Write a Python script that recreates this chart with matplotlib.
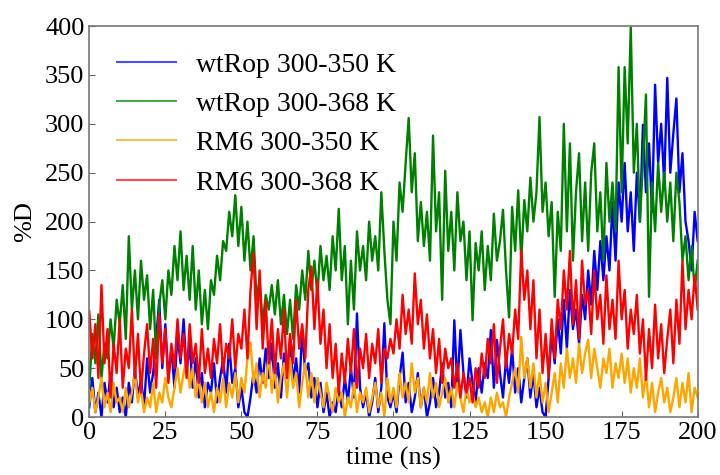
import numpy as np
import matplotlib
matplotlib.use('Agg')
import matplotlib.pyplot as plt

# %D over the 200 ns runs, sampled every 1 ns
time_ns = np.arange(0, 201, 1)

wt_350 = [10, 40, 5, 25, 0, 35, 15, 45, 10, 30,
          5, 20, 0, 35, 15, 50, 20, 40, 10, 60,
          25, 45, 80, 120, 50, 95, 40, 70, 30, 85,
          55, 100, 45, 75, 30, 60, 20, 45, 10, 35,
          25, 55, 15, 40, 60, 25, 75, 35, 50, 10,
          30, 5, 0, 20, 45, 25, 60, 35, 70, 40,
          75, 30, 55, 20, 65, 40, 80, 35, 60, 25,
          89, 45, 55, 20, 40, 10, 35, 5, 25, 0,
          15, 5, 30, 10, 40, 15, 50, 20, 106, 30,
          10, 25, 0, 15, 40, 5, 30, 96, 20, 10,
          25, 5, 40, 66, 15, 35, 5, 20, 45, 10,
          30, 0, 15, 40, 10, 25, 55, 20, 35, 10,
          99, 30, 89, 45, 20, 60, 35, 15, 50, 25,
          55, 40, 89, 30, 79, 45, 20, 60, 35, 70,
          25, 50, 15, 40, 60, 20, 45, 10, 30, 5,
          0, 40, 85, 55, 100, 65, 120, 70, 130, 90,
          110, 75, 125, 100, 150, 115, 170, 130, 180, 140,
          185, 150, 220, 160, 240, 200, 260, 190, 230, 170,
          250, 200, 299, 230, 280, 210, 340, 260, 300, 240,
          347, 250, 290, 326, 230, 270, 200, 180, 150, 210,
          180]

wt_368 = [30, 85, 55, 105, 40, 75, 60, 100, 70, 120,
          95, 135, 80, 185, 110, 150, 100, 160, 120, 145,
          90, 130, 60, 115, 140, 100, 150, 125, 175, 140,
          190, 130, 165, 120, 175, 110, 150, 95, 130, 90,
          140, 125, 165, 140, 180, 170, 210, 185, 227, 175,
          215, 160, 200, 150, 185, 120, 140, 95, 125, 110,
          135, 105, 140, 95, 125, 85, 120, 80, 135, 110,
          150, 120, 170, 130, 160, 125, 175, 140, 165, 130,
          185, 150, 213, 140, 175, 95, 160, 110, 190, 150,
          175, 140, 200, 160, 185, 150, 230, 170, 120, 95,
          200, 160, 240, 210, 260, 306, 230, 270, 180, 220,
          175, 210, 160, 288, 190, 230, 120, 252, 170, 210,
          150, 230, 180, 200, 140, 190, 99, 178, 150, 190,
          130, 175, 140, 208, 160, 180, 212, 150, 102, 215,
          170, 232, 160, 222, 190, 245, 200, 230, 307, 210,
          240, 185, 220, 123, 210, 170, 300, 190, 280, 160,
          230, 270, 180, 240, 170, 250, 280, 190, 230, 160,
          260, 200, 240, 190, 358, 230, 358, 280, 399, 250,
          300, 200, 260, 330, 123, 240, 190, 260, 210, 250,
          200, 240, 180, 250, 220, 160, 185, 140, 175, 130,
          160]

rm6_350 = [15, 30, 5, 20, 40, 10, 25, 5, 35, 15,
           20, 5, 30, 10, 25, 45, 15, 30, 5, 20,
           10, 35, 5, 25, 15, 40, 20, 10, 30, 50,
           25, 45, 60, 30, 50, 20, 40, 15, 35, 10,
           25, 5, 30, 15, 40, 10, 35, 20, 45, 15,
           40, 25, 60, 76, 35, 55, 20, 45, 30, 65,
           25, 50, 15, 40, 55, 20, 60, 30, 45, 10,
           35, 55, 20, 45, 15, 40, 25, 10, 35, 20,
           5, 30, 15, 25, 0, 20, 10, 35, 5, 25,
           15, 30, 5, 20, 35, 10, 25, 0, 40, 15,
           30, 10, 45, 20, 35, 15, 55, 25, 40, 10,
           30, 15, 45, 20, 35, 10, 25, 40, 15, 30,
           10, 35, 20, 5, 30, 15, 25, 10, 20, 5,
           15, 0, 20, 5, 25, 10, 15, 0, 20, 35,
           50, 25, 82, 40, 60, 30, 55, 20, 45, 15,
           35, 5, 25, 45, 15, 55, 30, 70, 40, 60,
           35, 75, 45, 65, 79, 40, 70, 50, 30, 60,
           45, 70, 30, 55, 40, 65, 35, 60, 25, 50,
           30, 60, 20, 45, 10, 35, 5, 25, 40, 15,
           30, 5, 20, 40, 10, 35, 15, 45, 5, 30,
           20]

rm6_368 = [108, 60, 95, 40, 135, 55, 90, 20, 75, 45,
           100, 30, 70, 50, 110, 40, 85, 25, 65, 95,
           45, 80, 30, 105, 55, 90, 35, 75, 50, 100,
           60, 85, 40, 95, 55, 75, 35, 90, 45, 70,
           40, 80, 55, 95, 45, 75, 60, 100, 50, 85,
           70, 110, 60, 130, 168, 90, 150, 70, 120, 55,
           100, 45, 90, 60, 110, 40, 85, 55, 120, 70,
           95, 60, 130, 154, 90, 140, 75, 110, 50, 95,
           40, 75, 25, 65, 35, 80, 45, 90, 30, 70,
           50, 85, 40, 75, 55, 90, 35, 70, 60, 80,
           65, 100, 70, 125, 85, 110, 75, 147, 95, 120,
           70, 105, 60, 90, 45, 80, 35, 70, 50, 60,
           30, 55, 20, 45, 25, 40, 15, 50, 30, 65,
           40, 80, 55, 95, 35, 70, 100, 50, 85, 65,
           110, 80, 171, 120, 150, 90, 140, 60, 110, 45,
           85, 40, 100, 60, 120, 90, 150, 110, 170, 95,
           140, 80, 160, 115, 130, 85, 150, 100, 125, 75,
           145, 90, 120, 80, 160, 100, 130, 70, 110, 85,
           125, 65, 100, 38, 90, 50, 115, 60, 95, 45,
           80, 110, 55, 120, 75, 160, 90, 130, 100, 145,
           110]

plt.rcParams['font.family'] = 'Liberation Serif'

fig = plt.figure(figsize=(7.2, 4.75), dpi=100)
ax = fig.add_axes([0.124, 0.122, 0.845, 0.823])

ax.plot(time_ns, wt_350, color='#0000ff', lw=1.7, label='wtRop 300-350 K')
ax.plot(time_ns, wt_368, color='#008000', lw=1.7, label='wtRop 300-368 K')
ax.plot(time_ns, rm6_350, color='#ffa500', lw=1.7, label='RM6 300-350 K')
ax.plot(time_ns, rm6_368, color='#ff0000', lw=1.7, label='RM6 300-368 K')

ax.set_xlim(0, 200)
ax.set_ylim(0, 400)
ax.set_xticks(np.arange(0, 201, 25))
ax.set_yticks(np.arange(0, 401, 50))
ax.tick_params(direction='in', labelsize=19, length=4, color='#666666', top=False, right=False)
for sp in ax.spines.values():
    sp.set_color('#777777')
    sp.set_linewidth(1.2)

ax.set_xlabel('time (ns)', fontsize=19, labelpad=2)
ax.set_ylabel('%D', fontsize=19, labelpad=6)

leg = ax.legend(loc='upper left', bbox_to_anchor=(0.028, 0.962), borderaxespad=0,
                frameon=False, fontsize=20, handlelength=2.1, handletextpad=0.72,
                labelspacing=0.5)
for h in leg.get_lines():
    h.set_alpha(0.7)
    h.set_linewidth(1.5)

fig.savefig('out.png', dpi=100)
